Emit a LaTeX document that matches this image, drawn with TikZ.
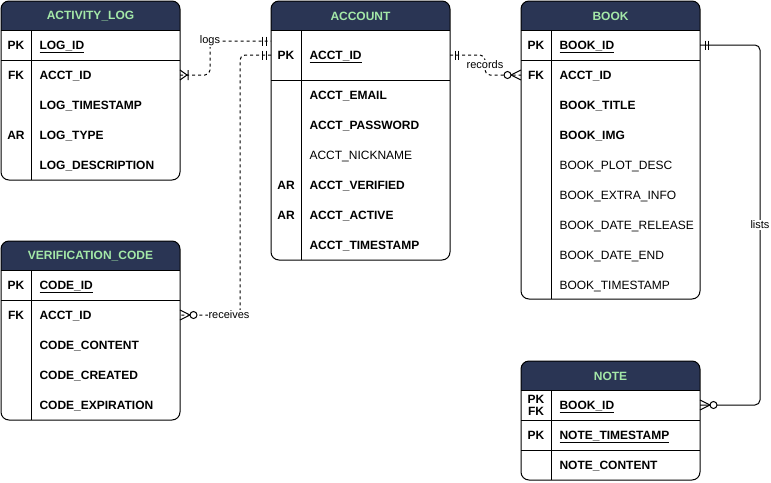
\documentclass[tikz,border=0pt]{standalone}
\usepackage{fontspec}
\setmainfont{Liberation Sans}
\usetikzlibrary{calc}
\definecolor{hdr}{HTML}{2A3554}
\definecolor{hdrtxt}{HTML}{A4E8A8}
\tikzset{
  tbl/.style={anchor=north west, inner sep=0pt, outer sep=0pt, rectangle},
  hdrt/.style={text=hdrtxt, font=\fontsize{12}{14}\selectfont\bfseries, inner sep=0pt},
  fld/.style={anchor=west, inner sep=0pt, text height=8.6pt, text depth=0pt, font=\fontsize{12}{14}\selectfont},
  fldb/.style={fld, font=\fontsize{12}{14}\selectfont\bfseries},
  keyl/.style={inner sep=0pt, text height=8.6pt, text depth=0pt, font=\fontsize{12}{14}\selectfont\bfseries},
  lbl/.style={fill=white, inner sep=1pt, font=\fontsize{11}{13}\selectfont},
  conn/.style={line width=1pt, rounded corners=5pt},
  dsh/.style={dash pattern=on 3pt off 3pt},
  erone/.pic={\draw[solid, line width=1pt] (5,-4.5)--(5,4.5) (8.5,-4.5)--(8.5,4.5);},
  ermanyone/.pic={\draw[solid, line width=1pt] (0,-5)--(7,0)--(0,5) (8,-5)--(8,5);},
  ermanyzero/.pic={\draw[solid, line width=1pt] (0,-5)--(10,0)--(0,5); \draw[solid, line width=1pt, fill=white] (13.5,0) circle (3.5pt);}
}
\newcommand\ertab[6]{%
  \node[tbl, minimum width=179pt, minimum height=#4pt] (#1) at (#2,#3) {};
  \begin{scope}
    \clip[rounded corners=8pt] (#1.north west) rectangle (#1.south east);
    \fill[hdr] (#1.north west) rectangle ([yshift=-29pt]#1.north east);
  \end{scope}
  \draw[rounded corners=8pt] (#1.north west) rectangle (#1.south east);
  \draw ([yshift=-29pt]#1.north west) -- ([yshift=-29pt]#1.north east);
  \draw ([yshift=-#6pt]#1.north west) -- ([yshift=-#6pt]#1.north east);
  \draw ([xshift=30pt,yshift=-29pt]#1.north west) -- ([xshift=30pt]#1.south west);
  \node[hdrt] (#1-t) at ([yshift=-15pt]#1.north) {#5};
}
\begin{document}
\begin{tikzpicture}[x=1pt, y=-1pt, line width=1pt]
\useasboundingbox (0,0) rectangle (771,482);

% ACTIVITY_LOG
\ertab{al}{1}{1}{179}{ACTIVITY\_LOG}{59}
\node[keyl] (al-k1) at (16,45) {PK};
\node[fldb] (al-f1) at (39,45) {\underline{LOG\_ID}};
\node[keyl] (al-k2) at (16,75) {FK};
\node[fldb] (al-f2) at (39,75) {ACCT\_ID};
\node[fldb] (al-f3) at (39,105) {LOG\_TIMESTAMP};
\node[keyl] (al-k4) at (16,135) {AR};
\node[fldb] (al-f4) at (39,135) {LOG\_TYPE};
\node[fldb] (al-f5) at (39,165) {LOG\_DESCRIPTION};

% ACCOUNT
\ertab{ac}{271}{1}{259}{ACCOUNT}{79}
\node[keyl] (ac-k1) at (286,55) {PK};
\node[fldb] (ac-f1) at (309,55) {\underline{ACCT\_ID}};
\node[fldb] (ac-f2) at (309,95) {ACCT\_EMAIL};
\node[fldb] (ac-f3) at (309,125) {ACCT\_PASSWORD};
\node[fld] (ac-f4) at (309,155) {ACCT\_NICKNAME};
\node[keyl] (ac-k5) at (286,185) {AR};
\node[fldb] (ac-f5) at (309,185) {ACCT\_VERIFIED};
\node[keyl] (ac-k6) at (286,215) {AR};
\node[fldb] (ac-f6) at (309,215) {ACCT\_ACTIVE};
\node[fldb] (ac-f7) at (309,245) {ACCT\_TIMESTAMP};

% BOOK
\ertab{bk}{521}{1}{298}{BOOK}{59}
\node[keyl] (bk-k1) at (536,45) {PK};
\node[fldb] (bk-f1) at (559,45) {\underline{BOOK\_ID}};
\node[keyl] (bk-k2) at (536,75) {FK};
\node[fldb] (bk-f2) at (559,75) {ACCT\_ID};
\node[fldb] (bk-f3) at (559,105) {BOOK\_TITLE};
\node[fldb] (bk-f4) at (559,135) {BOOK\_IMG};
\node[fld] (bk-f5) at (559,165) {BOOK\_PLOT\_DESC};
\node[fld] (bk-f6) at (559,195) {BOOK\_EXTRA\_INFO};
\node[fld] (bk-f7) at (559,225) {BOOK\_DATE\_RELEASE};
\node[fld] (bk-f8) at (559,255) {BOOK\_DATE\_END};
\node[fld] (bk-f9) at (559,285) {BOOK\_TIMESTAMP};

% VERIFICATION_CODE
\ertab{vc}{1}{241}{179}{VERIFICATION\_CODE}{59}
\node[keyl] (vc-k1) at (16,285) {PK};
\node[fldb] (vc-f1) at (39,285) {\underline{CODE\_ID}};
\node[keyl] (vc-k2) at (16,315) {FK};
\node[fldb] (vc-f2) at (39,315) {ACCT\_ID};
\node[fldb] (vc-f3) at (39,345) {CODE\_CONTENT};
\node[fldb] (vc-f4) at (39,375) {CODE\_CREATED};
\node[fldb] (vc-f5) at (39,405) {CODE\_EXPIRATION};

% NOTE
\ertab{nt}{521}{361}{119}{NOTE}{59}
\draw ([yshift=-89pt]nt.north west) -- ([yshift=-89pt]nt.north east);
\node[keyl, text height=, text depth=, align=center, font=\fontsize{12}{12.4}\selectfont\bfseries] (nt-k1) at (536,405.5) {PK\\FK};
\node[fldb] (nt-f1) at (559,405) {\underline{BOOK\_ID}};
\node[keyl] (nt-k2) at (536,435) {PK};
\node[fldb] (nt-f2) at (559,435) {\underline{NOTE\_TIMESTAMP}};
\node[fldb] (nt-f3) at (559,465) {NOTE\_CONTENT};

% connectors
\coordinate (logsEnd) at ([yshift=14pt]ac.west |- ac-f1);
\draw[conn, dsh] (al.east |- al-f2) -- ++(30,0) |- (logsEnd);
\pic at (al.east |- al-f2) {ermanyone};
\pic[xscale=-1] at (logsEnd) {erone};
\node[lbl] (l-logs) at (210,41) {logs};

\draw[conn, dsh] (ac.west |- ac-f1) -- ++(-31,0) |- (vc.east |- vc-f2);
\pic[xscale=-1] at (ac.west |- ac-f1) {erone};
\pic at (vc.east |- vc-f2) {ermanyzero};
\node[lbl] (l-rec) at (229,315) {receives};

\draw[conn, dsh] (ac.east |- ac-f1) -- ++(35,0) |- (bk.west |- bk-f2);
\pic at (ac.east |- ac-f1) {erone};
\pic[xscale=-1] at (bk.west |- bk-f2) {ermanyzero};
\node[lbl] (l-records) at (485,65) {records};

\draw[conn] (bk.east |- bk-f1) -- ++(60,0) |- (nt.east |- nt-f1);
\pic at (bk.east |- bk-f1) {erone};
\pic at (nt.east |- nt-f1) {ermanyzero};
\node[lbl] (l-lists) at (760,225) {lists};
\end{tikzpicture}
\end{document}
